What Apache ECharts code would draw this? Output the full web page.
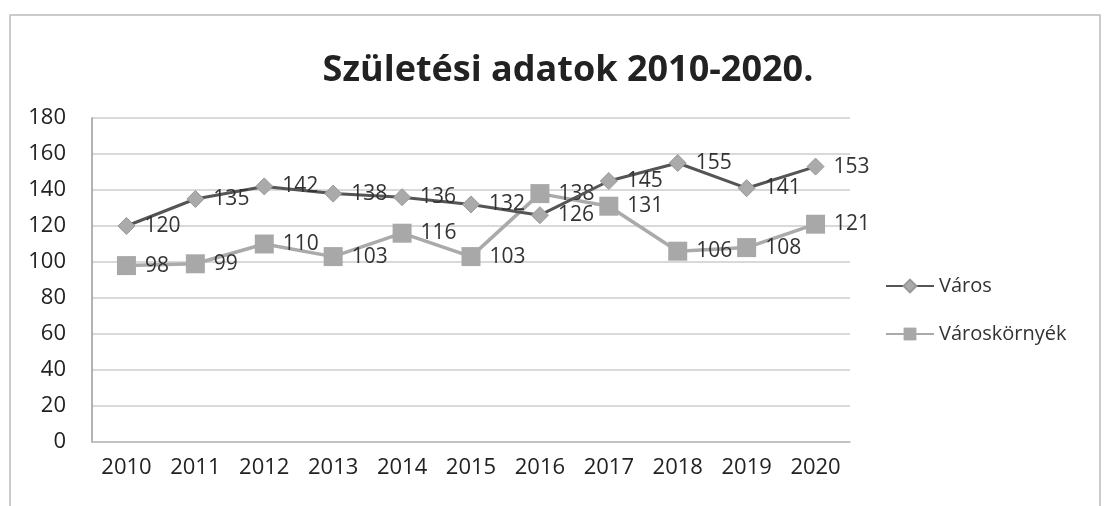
<!DOCTYPE html>
<html>
<head>
<meta charset="utf-8">
<script src="https://cdn.jsdelivr.net/npm/echarts@6/dist/echarts.min.js"></script>
<style>
  html, body { margin: 0; padding: 0; background: #fff; }
  #chart { width: 1107px; height: 506px; }
</style>
</head>
<body>
<div id="chart"></div>
<script>
// years on the x axis
var years = ['2010', '2011', '2012', '2013', '2014', '2015', '2016', '2017', '2018', '2019', '2020'];
// births, town
var varos = [120, 135, 142, 138, 136, 132, 126, 145, 155, 141, 153];
// births, surroundings
var varoskornyek = [98, 99, 110, 103, 116, 103, 138, 131, 106, 108, 121];

var font = '"Open Sans", "Noto Sans", sans-serif';

var chart = echarts.init(document.getElementById('chart'));

var option = {
  backgroundColor: '#fff',
  textStyle: { fontFamily: font },
  graphic: [{
    type: 'rect',
    shape: { x: 10, y: 15, width: 1090, height: 495 },
    style: { fill: 'none', stroke: '#bbb', lineWidth: 1.5 }
  }],
  title: {
    text: 'Születési adatok 2010-2020.',
    left: 563,
    top: 48,
    textAlign: 'center',
    textStyle: { fontSize: 36, fontWeight: 'bold', color: '#222', fontFamily: font }
  },
  legend: {
    orient: 'vertical',
    left: 880,
    top: 271,
    itemGap: 28,
    itemWidth: 48,
    itemHeight: 16,
    textStyle: { fontSize: 20, color: '#333', fontFamily: font },
    data: ['Város', 'Városkörnyék']
  },
  grid: { left: 92, right: 257, top: 118, bottom: 64 },
  xAxis: {
    type: 'category',
    data: years,
    boundaryGap: true,
    axisLine: { lineStyle: { color: '#bbb', width: 1.5 } },
    axisTick: { show: false },
    axisLabel: { fontSize: 22, color: '#222', margin: 15 }
  },
  yAxis: {
    type: 'value',
    min: 0,
    max: 180,
    interval: 20,
    axisLine: { show: true, lineStyle: { color: '#999', width: 1.5 } },
    axisTick: { show: false },
    splitLine: { lineStyle: { color: '#ccc', width: 1.5 } },
    axisLabel: { fontSize: 22, color: '#222', margin: 26 }
  },
  series: [
    {
      name: 'Város',
      type: 'line',
      data: varos,
      symbol: 'diamond',
      symbolSize: 17,
      lineStyle: { color: '#555', width: 3 },
      itemStyle: { color: '#aaa', borderColor: '#999', borderWidth: 1 },
      label: { show: true, position: 'right', distance: 9, fontSize: 21, color: '#333' },
      z: 3
    },
    {
      name: 'Városkörnyék',
      type: 'line',
      data: varoskornyek,
      symbol: 'rect',
      symbolSize: 19,
      lineStyle: { color: '#aaa', width: 3.5 },
      itemStyle: { color: '#a8a8a8' },
      label: { show: true, position: 'right', distance: 9, fontSize: 21, color: '#333' },
      z: 2
    }
  ]
};

chart.setOption(option);
window.addEventListener('resize', function () { chart.resize(); });
</script>
</body>
</html>
